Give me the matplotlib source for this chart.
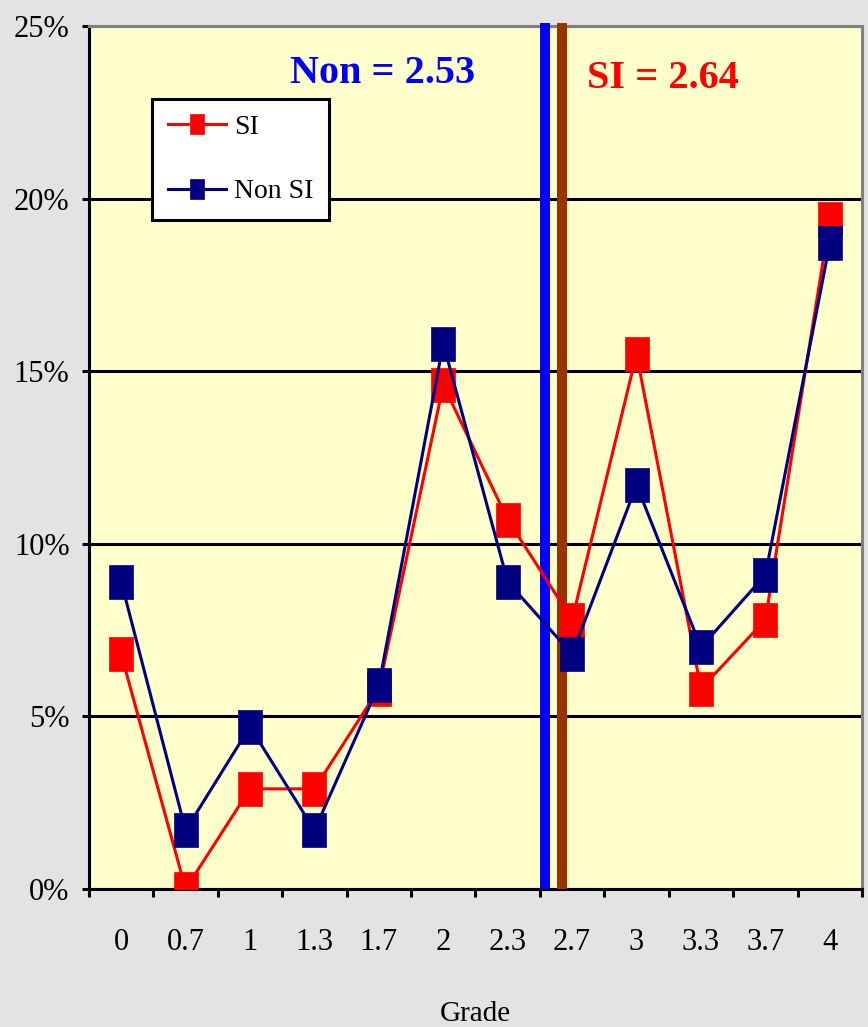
import numpy as np
import matplotlib
matplotlib.use("Agg")
import matplotlib.pyplot as plt
from matplotlib.path import Path

# Grade distribution (percent of students at each grade)
grades = ["0", "0.7", "1", "1.3", "1.7", "2", "2.3", "2.7", "3", "3.3", "3.7", "4"]
si_pct = [6.8, 0.0, 2.9, 2.9, 5.8, 14.6, 10.7, 7.8, 15.5, 5.8, 7.8, 19.4]
non_si_pct = [8.9, 1.7, 4.7, 1.7, 5.9, 15.8, 8.9, 6.8, 11.7, 7.0, 9.1, 18.7]

# Mean grades for each group
non_mean = 2.53
si_mean = 2.64

yticks = [0, 5, 10, 15, 20, 25]

plt.rcParams["font.family"] = ["Liberation Serif", "DejaVu Serif"]

fig = plt.figure(figsize=(8.68, 10.27), dpi=100, facecolor="#E3E3E3")
ax = fig.add_axes([0.1025, 0.1344, 0.8906, 0.8403])
ax.set_facecolor("#FFFFCC")

x = np.arange(len(grades))

# Tall rectangular marker
rect = Path([(-0.367, -0.5), (0.367, -0.5), (0.367, 0.5), (-0.367, 0.5), (-0.367, -0.5)],
            [Path.MOVETO, Path.LINETO, Path.LINETO, Path.LINETO, Path.CLOSEPOLY])

ax.plot(x, si_pct, color="#FF0000", lw=2.2, marker=rect, markersize=24,
        markerfacecolor="#FF0000", markeredgecolor="#FF0000", markeredgewidth=0.5,
        label="SI", zorder=3)
ax.plot(x, non_si_pct, color="#000080", lw=2.2, marker=rect, markersize=24,
        markerfacecolor="#000080", markeredgecolor="#000080", markeredgewidth=0.5,
        label="Non SI", zorder=3.1)

# Mean markers placed on the grade scale between neighbouring categories
grade_vals = [float(g) for g in grades]
non_x = np.interp(non_mean, grade_vals, x)
si_x = np.interp(si_mean, grade_vals, x)
ax.plot([non_x, non_x], [0, 25.1], color="#0000FF", lw=7.2, solid_capstyle="butt",
        zorder=2.8, clip_on=False)
ax.plot([si_x, si_x], [0, 25.1], color="#993300", lw=7.2, solid_capstyle="butt",
        zorder=2.8, clip_on=False)

ax.text(0.3797, 0.9336, f"Non = {non_mean:.2f}", transform=ax.transAxes,
        ha="center", va="baseline", fontsize=29, fontweight="bold", color="#0000FF")
ax.text(0.743, 0.928, f"SI = {si_mean:.2f}", transform=ax.transAxes,
        ha="center", va="baseline", fontsize=29, fontweight="bold", color="#FF0000")

# Axes limits and ticks
ax.set_xlim(-0.5, len(grades) - 0.5)
ax.set_ylim(0, 25)
ax.set_yticks(yticks)
ax.set_yticklabels([f"{v}%" for v in yticks], fontsize=22)
ax.tick_params(axis="y", direction="out", length=5, width=2.2, pad=9)

ax.set_xticks(np.arange(-0.5, len(grades), 1.0))
ax.set_xticklabels([])
ax.set_xticks(x, minor=True)
ax.set_xticklabels(grades, minor=True, fontsize=22)
ax.tick_params(axis="x", which="major", direction="out", length=6, width=2.2)
ax.tick_params(axis="x", which="minor", length=0, pad=28)

ax.set_xlabel("Grade", fontsize=21, labelpad=32)

ax.set_axisbelow(True)
ax.yaxis.grid(True, color="black", lw=2.2)

for side in ("left", "bottom"):
    ax.spines[side].set_color("black")
    ax.spines[side].set_linewidth(2.2)
for side in ("top", "right"):
    ax.spines[side].set_color("#808080")
    ax.spines[side].set_linewidth(2.2)

leg = ax.legend(loc="upper left", bbox_to_anchor=(0.0819, 0.915), borderaxespad=0,
                fontsize=20, markerscale=0.6, handlelength=2.1, handletextpad=0.3,
                labelspacing=1.4, borderpad=0.55, fancybox=False, framealpha=1,
                edgecolor="black", facecolor="white")
leg.get_frame().set_linewidth(2.2)

fig.savefig("out.png", dpi=100, facecolor=fig.get_facecolor())
